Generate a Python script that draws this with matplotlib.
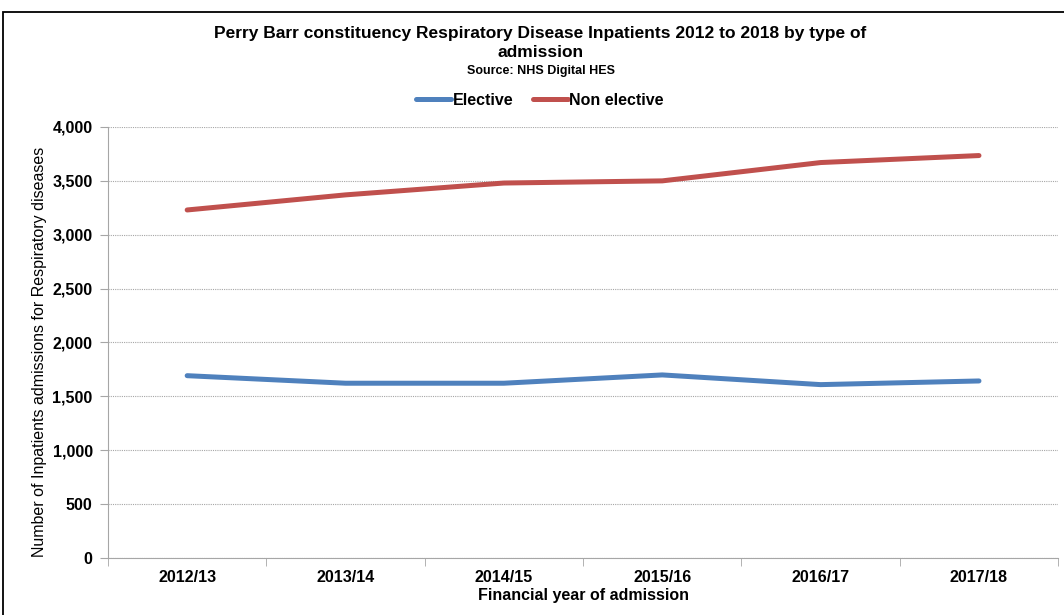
import matplotlib.pyplot as plt
from matplotlib.ticker import FuncFormatter
from matplotlib.patches import Rectangle

plt.rcParams['font.family'] = ['Liberation Sans', 'DejaVu Sans']

years = ['2012/13', '2013/14', '2014/15', '2015/16', '2016/17', '2017/18']
elective = [1692, 1622, 1622, 1699, 1609, 1643]
non_elective = [3230, 3370, 3480, 3500, 3670, 3735]

fig = plt.figure(figsize=(10.64, 6.15), dpi=100)
ax = fig.add_axes([0.1015, 0.0927, 0.893, 0.7008])

# outer chart border
fig.patches.append(Rectangle((0.003, -0.05), 1.2, 1.03, transform=fig.transFigure,
                             fill=False, edgecolor='black', linewidth=1.3))

x = list(range(len(years)))
ax.plot(x, elective, color='#4F81BD', linewidth=3.6, label='Elective', solid_capstyle='round')
ax.plot(x, non_elective, color='#C0504D', linewidth=3.6, label='Non elective', solid_capstyle='round')

ax.set_xlim(-0.5, len(years) - 0.5)
ax.set_ylim(0, 4000)
ax.set_yticks(range(0, 4001, 500))
ax.yaxis.set_major_formatter(FuncFormatter(lambda v, p: f'{int(v):,}'))
ax.grid(axis='y', color='#A6A6A6', linestyle=(0, (1, 1)), linewidth=0.8)
ax.set_axisbelow(True)

ax.set_xticks(x)
ax.set_xticklabels(years, fontsize=11.5, fontweight='bold')
ax.set_xticks([i - 0.5 for i in range(len(years) + 1)], minor=True)
ax.tick_params(axis='x', which='major', length=0, pad=9)
ax.tick_params(axis='x', which='minor', length=6, color='#A6A6A6', direction='out')
ax.tick_params(axis='y', length=6, color='#A6A6A6', labelsize=11.5, pad=5)
for lab in ax.get_yticklabels():
    lab.set_fontweight('bold')

for s in ['top', 'right']:
    ax.spines[s].set_visible(False)
for s in ['left', 'bottom']:
    ax.spines[s].set_color('#A6A6A6')

ax.set_xlabel('Financial year of admission', fontsize=11.5, fontweight='bold', labelpad=2)
ax.set_ylabel('Number of Inpatients admissions for Respiratory diseases', fontsize=11.5)
ax.yaxis.set_label_coords(-0.064, 0.478)

fig.text(0.508, 0.946, 'Perry Barr constituency Respiratory Disease Inpatients 2012 to 2018 by type of',
         ha='center', va='center', fontsize=12.5, fontweight='bold')
fig.text(0.508, 0.914, 'admission', ha='center', va='center', fontsize=12.5, fontweight='bold')
fig.text(0.508, 0.884, 'Source: NHS Digital HES', ha='center', va='center', fontsize=9, fontweight='bold')

ax.legend(loc='center', bbox_to_anchor=(0.5075, 0.837), bbox_transform=fig.transFigure,
          ncol=2, frameon=False, prop={'weight': 'bold', 'size': 11.5},
          handlelength=2.2, handletextpad=0.1, columnspacing=1.2)

fig.savefig('out.png', dpi=100)
